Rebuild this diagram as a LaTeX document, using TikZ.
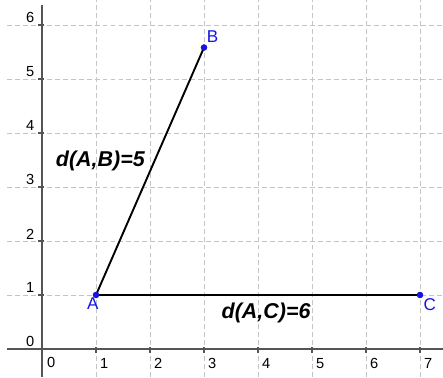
\documentclass[tikz,border=0pt]{standalone}
\usepackage{fontspec}
\setmainfont{Liberation Sans}
\definecolor{gridgray}{HTML}{C4C4C4}
\definecolor{axisgray}{HTML}{555555}
\definecolor{ptblue}{HTML}{1515E0}
\tikzset{
  gridline/.style={draw=gridgray, line width=0.5pt, dash pattern=on 2.6pt off 1.6pt},
  axisline/.style={draw=axisgray, line width=0.8pt},
  ticklabel/.style={font=\fontsize{7.7}{9}\selectfont, text=black, inner sep=0pt},
  ptdot/.style={circle, fill=ptblue, inner sep=0pt, minimum size=3.3pt},
  ptlabel/.style={font=\fontsize{9}{10.8}\selectfont, text=ptblue, inner sep=0pt},
  segment/.style={draw=black, line width=1pt},
  distlabel/.style={font=\bfseries\itshape\fontsize{11.3}{13}\selectfont, inner sep=0pt}
}
\begin{document}
\begin{tikzpicture}[x=1cm,y=1cm]
\useasboundingbox (-0.778,-0.519) rectangle (7.426,6.463);
% grid
\foreach \i in {1,...,7} \draw[gridline] (\i,-0.519) -- (\i,6.463);
\foreach \j in {1,...,6} \draw[gridline] (-0.65,\j) -- (7.426,\j);
% axes
\draw[axisline] (-0.65,0) -- (7.426,0);
\draw[axisline] (0,-0.519) -- (0,6.37);
\foreach \i in {1,...,7} \draw[axisline] (\i,0.03) -- (\i,-0.08);
\foreach \j in {1,...,6} \draw[axisline] (0.03,\j) -- (-0.08,\j);
% tick labels
\node[ticklabel] (xl0) at (0.17,-0.25) {0};
\foreach \i in {1,...,7} \node[ticklabel] (xl\i) at (\i+0.15,-0.27) {\i};
\node[ticklabel] (yl0) at (-0.22,0.14) {0};
\foreach \j in {1,...,6} \node[ticklabel] (yl\j) at (-0.22,\j+0.13) {\j};
% points
\node[ptdot] (A) at (1,1) {};
\node[ptdot] (B) at (3,5.583) {};
\node[ptdot] (C) at (7,1) {};
\draw[segment] (A.center) -- (B.center);
\draw[segment] (A.center) -- (C.center);
\node[ptdot] at (A.center) {};
\node[ptdot] at (B.center) {};
\node[ptdot] at (C.center) {};
\node[ptlabel] (Alab) at (0.94,0.84) {A};
\node[ptlabel] (Blab) at (3.16,5.79) {B};
\node[ptlabel] (Clab) at (7.18,0.82) {C};
% distance labels
\node[distlabel] (dAB) at (1.08,3.48) {d(A,B)=5};
\node[distlabel] (dAC) at (4.15,0.67) {d(A,C)=6};
\end{tikzpicture}
\end{document}
